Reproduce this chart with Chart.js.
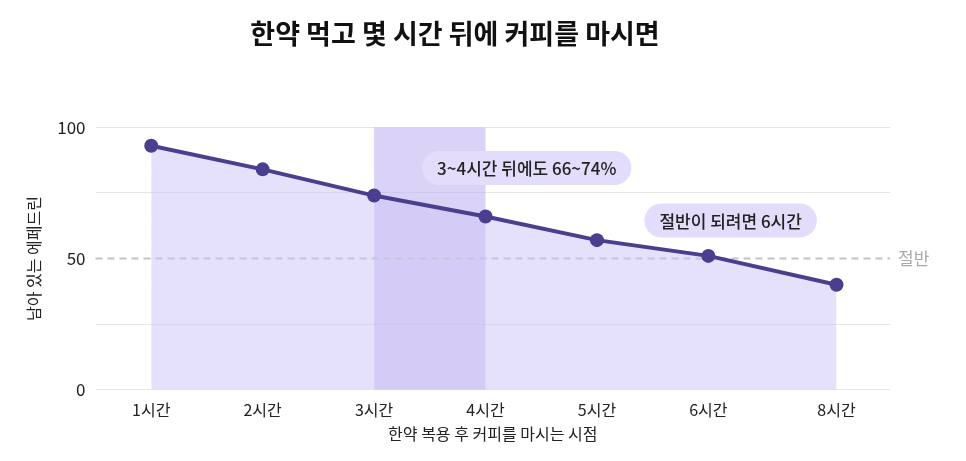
<!DOCTYPE html>
<html><head><meta charset="utf-8">
<script src="https://cdn.jsdelivr.net/npm/chart.js@4"></script>
<style>body{margin:0;background:#fff}#wrap{width:966px;height:461px}</style>
</head><body><div id="wrap"><canvas id="c"></canvas></div>
<script>
const labels = ['1시간','2시간','3시간','4시간','5시간','6시간','8시간'];
const xPos = [1,2,3,4,5,6,7.15];
const remaining = [93,84,74,66,57,51,40];
const yTicks = [0,50,100];
const notes = [
  {text:'3~4시간 뒤에도 66~74%', x:4.37, y:84.5},
  {text:'절반이 되려면 6시간', x:6.2, y:64.5}
];
const FONT = '"Noto Sans CJK KR", "Noto Sans", sans-serif';

const extras = {
  id:'extras',
  beforeDatasetsDraw(chart){
    const {ctx, chartArea:a, scales:{x,y}} = chart;
    ctx.save();
    ctx.fillStyle = 'rgba(190,175,240,0.55)';
    ctx.fillRect(x.getPixelForValue(3), y.getPixelForValue(100), x.getPixelForValue(4)-x.getPixelForValue(3), y.getPixelForValue(0)-y.getPixelForValue(100));
    ctx.strokeStyle = '#c4c4c4'; ctx.lineWidth = 2; ctx.setLineDash([7,5]);
    const y50 = y.getPixelForValue(50);
    ctx.beginPath(); ctx.moveTo(a.left, y50); ctx.lineTo(a.right, y50); ctx.stroke();
    ctx.setLineDash([]);
    ctx.fillStyle = '#aaa'; ctx.font = '17px '+FONT; ctx.textBaseline = 'middle';
    ctx.fillText('절반', a.right+8, y50);
    ctx.restore();
  },
  afterDatasetsDraw(chart){
    const {ctx, scales:{x,y}} = chart;
    ctx.save();
    ctx.font = '500 17px '+FONT; ctx.textAlign='center'; ctx.textBaseline='middle';
    notes.forEach(n=>{
      const cx = x.getPixelForValue(n.x), cy = y.getPixelForValue(n.y);
      const w = ctx.measureText(n.text).width + 30, h = 34;
      ctx.fillStyle = '#e3dcfb';
      ctx.beginPath(); ctx.roundRect(cx-w/2, cy-h/2, w, h, 17); ctx.fill();
      ctx.fillStyle = '#222'; ctx.fillText(n.text, cx, cy+1);
    });
    ctx.restore();
  }
};

new Chart(document.getElementById('c'), {
  type:'line',
  data:{datasets:[{
    data: xPos.map((v,i)=>({x:v, y:remaining[i]})),
    borderColor:'#4a3f8e', borderWidth:4,
    backgroundColor:'rgba(205,195,248,0.5)', fill:'origin',
    pointRadius:7, pointBackgroundColor:'#4a3f8e', pointBorderWidth:0, tension:0
  }]},
  options:{
    responsive:true, maintainAspectRatio:false, animation:false,
    layout:{padding:{top:10,right:76,left:20,bottom:13}},
    plugins:{
      legend:{display:false}, tooltip:{enabled:false},
      title:{display:true, text:'한약 먹고 몇 시간 뒤에 커피를 마시면', color:'#111',
        font:{family:FONT, size:27, weight:'bold'}, padding:{top:8,bottom:77}}
    },
    scales:{
      x:{type:'linear', min:0.5, max:7.63,
        afterBuildTicks(s){ s.ticks = xPos.map(v=>({value:v})); },
        ticks:{color:'#222', font:{family:FONT,size:16}, callback:(v,i)=>labels[i]},
        grid:{display:false}, border:{display:false},
        title:{display:true, text:'한약 복용 후 커피를 마시는 시점', color:'#222', font:{family:FONT,size:16}, padding:{top:2}}
      },
      y:{min:0, max:100,
        afterBuildTicks(s){ s.ticks = [0,25,50,75,100].map(v=>({value:v})); },
        ticks:{color:'#222', font:{family:FONT,size:17}, padding:10,
          callback:v=>yTicks.includes(v)?v:''},
        grid:{color:v=>v.tick.value===50?'rgba(0,0,0,0)':'#e6e6e6', drawTicks:false},
        border:{display:false},
        title:{display:true, text:'남아 있는 에페드린', color:'#222', font:{family:FONT,size:16}}
      }
    }
  },
  plugins:[extras]
});
</script></body></html>
